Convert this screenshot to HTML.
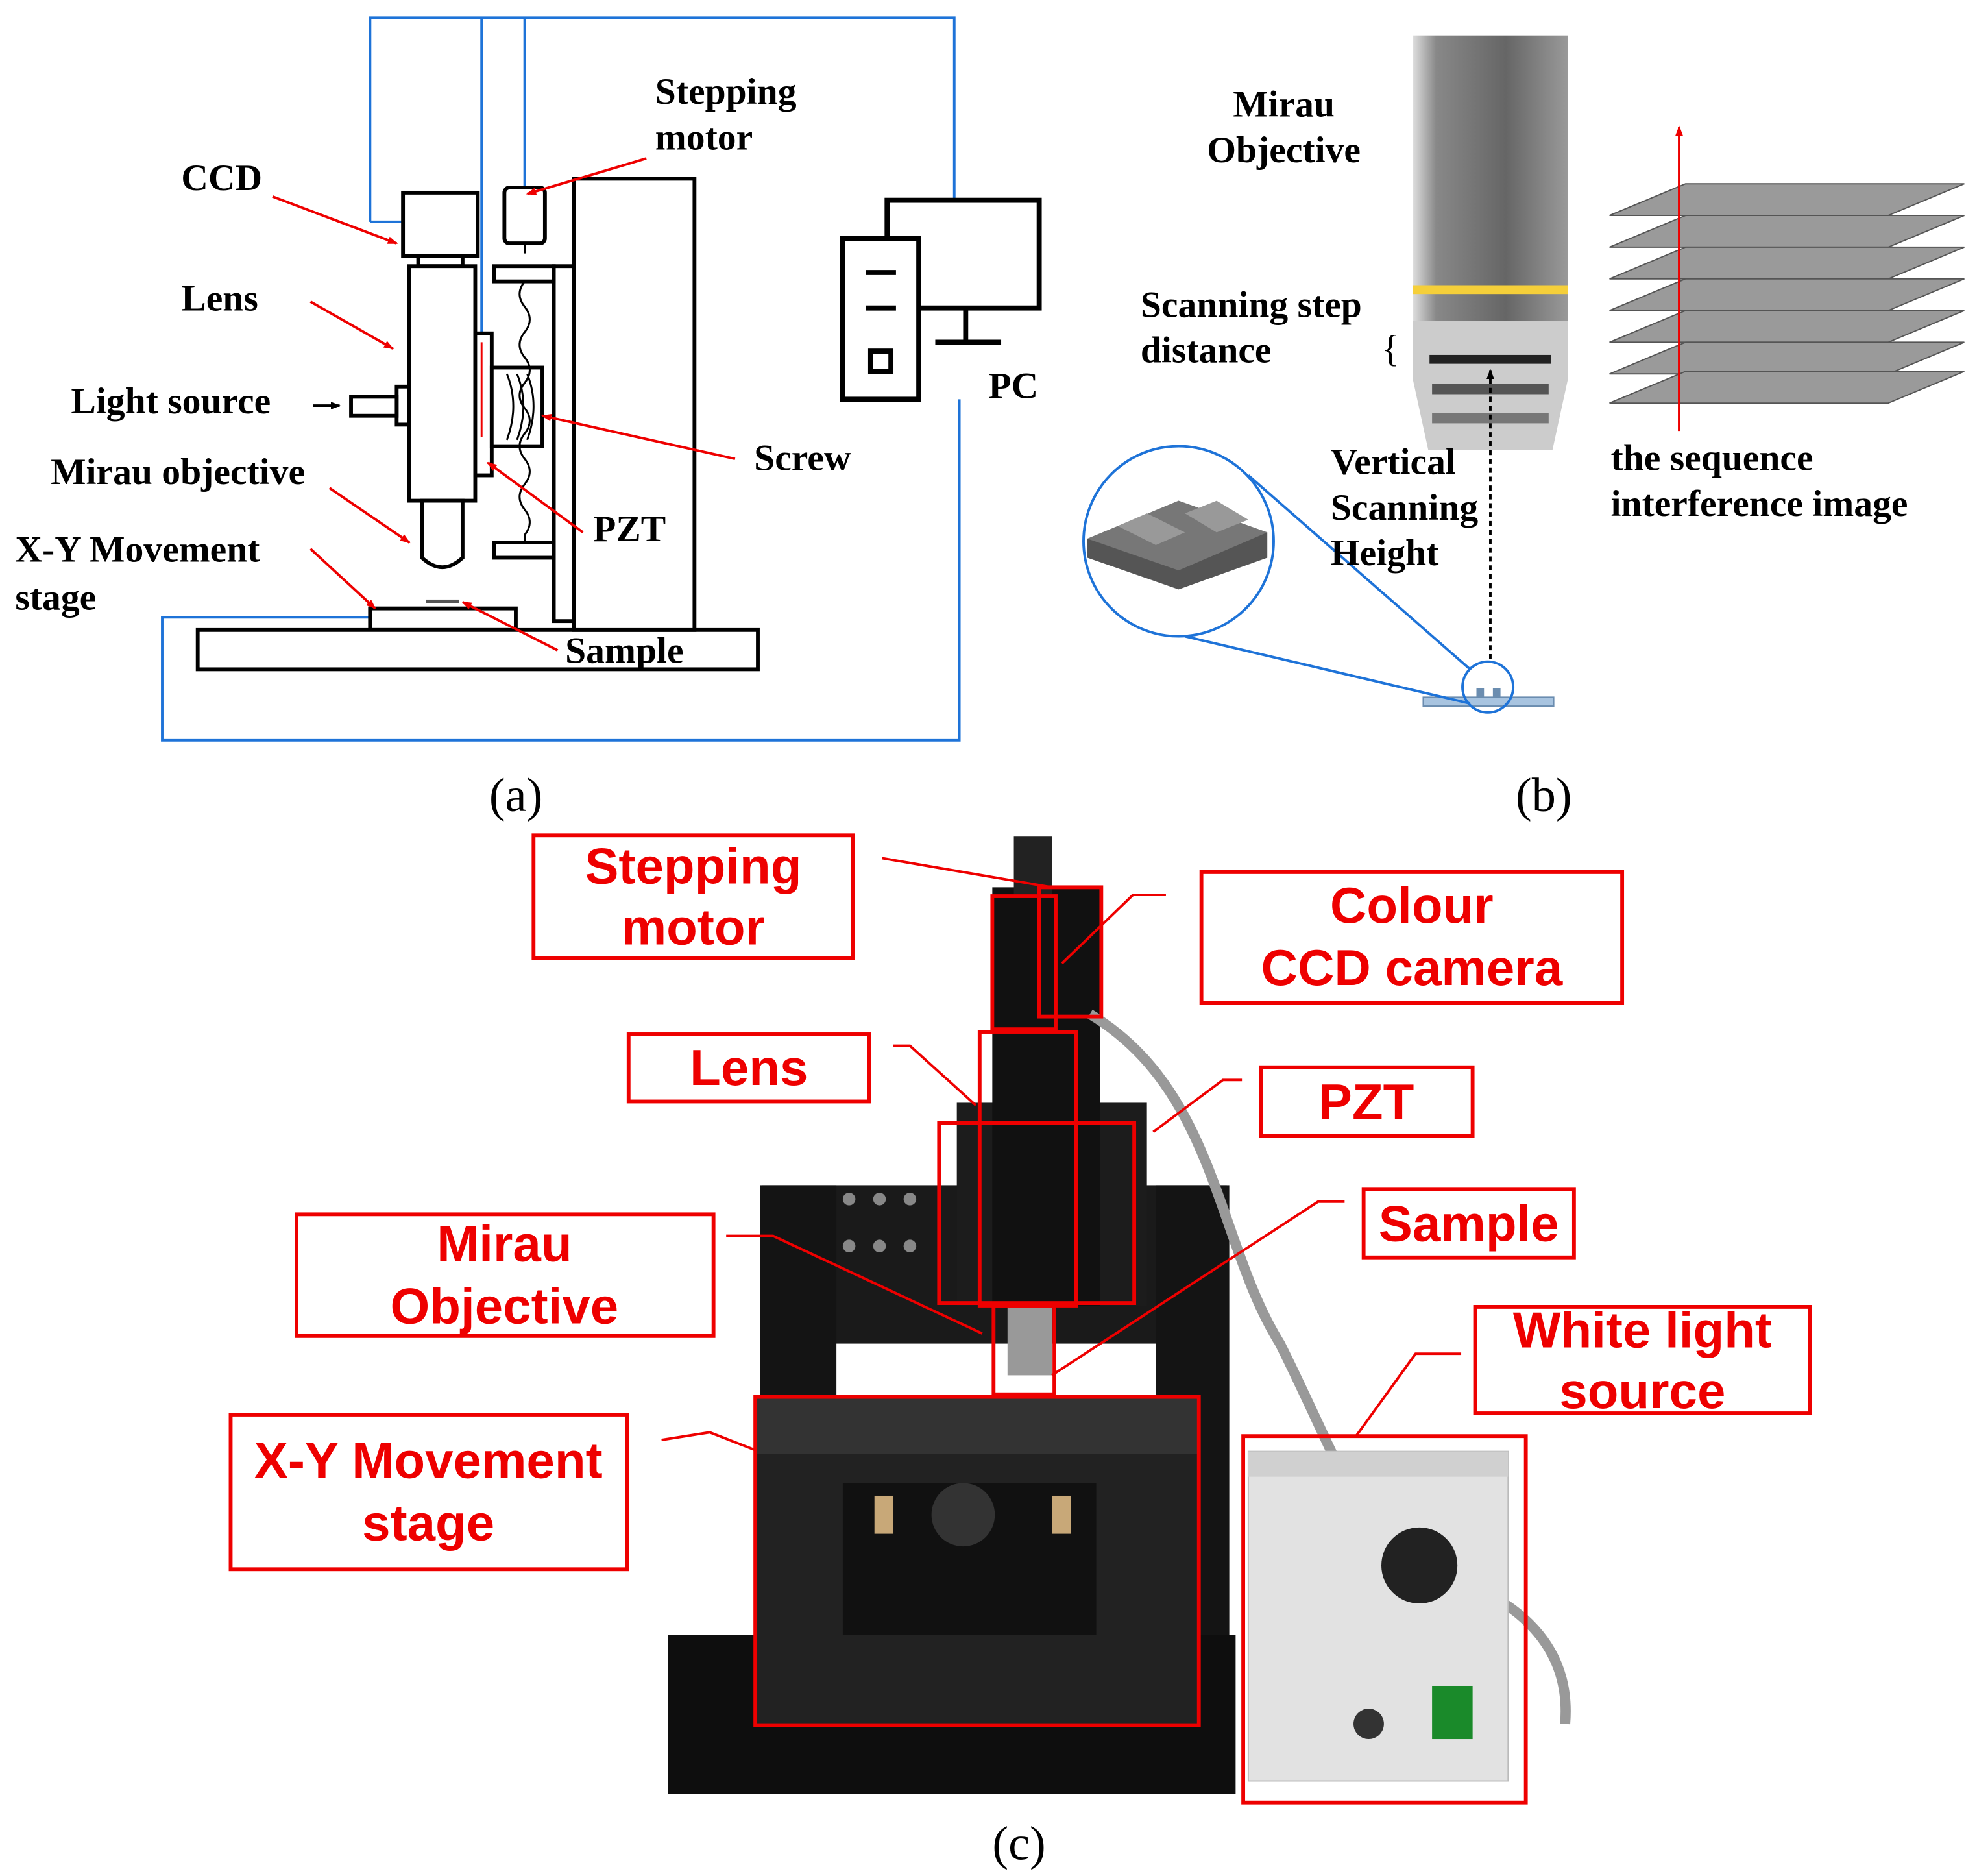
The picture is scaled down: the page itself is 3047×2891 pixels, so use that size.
<!DOCTYPE html>
<html><head><meta charset="utf-8"><style>html,body{margin:0;padding:0;background:#fff}svg{display:block}</style></head>
<body>
<svg width="3047" height="2891" viewBox="0 0 1560 1480" preserveAspectRatio="none" xmlns="http://www.w3.org/2000/svg">
<defs>
<marker id="ar" markerWidth="8" markerHeight="8" refX="7" refY="4" orient="auto" markerUnits="userSpaceOnUse"><path d="M0,1 L8,4 L0,7z" fill="#e00"/></marker>
<marker id="ab" markerWidth="8" markerHeight="8" refX="7" refY="4" orient="auto" markerUnits="userSpaceOnUse"><path d="M0,1 L8,4 L0,7z" fill="#000"/></marker>
<linearGradient id="cyl" x1="0" x2="1"><stop offset="0" stop-color="#ddd"/><stop offset="0.15" stop-color="#888"/><stop offset="0.6" stop-color="#666"/><stop offset="1" stop-color="#999"/></linearGradient>
</defs>
<g font-family="Liberation Serif, serif" font-weight="bold" font-size="29.5" fill="#000">
<g stroke="#1e73d8" stroke-width="2" fill="none">
<path d="M292,175 V14 H753 V158"/>
<path d="M292,175 H318"/>
<path d="M380,14 V262"/>
<path d="M414,14 V148"/>
<path d="M292,487 H128 V584 H757 V315"/>
</g>
<g stroke="#000" stroke-width="3" fill="#fff">
<rect x="318" y="152" width="59" height="50"/>
<rect x="330" y="202" width="35" height="8"/>
<rect x="323" y="210" width="52" height="185"/>
<rect x="375" y="263" width="13" height="112"/>
<rect x="313" y="305" width="10" height="30"/>
<rect x="277" y="313" width="36" height="15"/>
<path d="M333,395 H365 V440 Q349,455 333,440Z"/>
<rect x="292" y="480" width="115" height="17"/>
<rect x="156" y="497" width="442" height="31"/>
<rect x="398" y="148" width="32" height="44" rx="4"/>
<rect x="453" y="141" width="95" height="356"/>
<rect x="437" y="210" width="16" height="280"/>
<rect x="390" y="210" width="47" height="12"/>
<rect x="390" y="428" width="47" height="12"/>
<rect x="388" y="290" width="40" height="62"/>
</g>
<path d="M414,192 V200 M414,222 q-8,10 0,20 q8,10 0,20 q-8,10 0,20 q8,10 0,20 q-8,10 0,20 q8,10 0,20 q-8,10 0,20 q8,10 0,20 q-8,10 0,20 q8,10 0,20 V428" stroke="#000" stroke-width="1.5" fill="none"/>
<path d="M400,295 q10,25 0,52 M408,295 q10,25 0,52 M416,295 q10,25 0,52" stroke="#000" stroke-width="1.5" fill="none"/>
<rect x="336" y="473" width="26" height="3" fill="#555"/>
<line x1="380" y1="270" x2="380" y2="345" stroke="#e00" stroke-width="1.5"/>
<g stroke="#e00" stroke-width="2" marker-end="url(#ar)">
<line x1="215" y1="155" x2="313" y2="192"/>
<line x1="245" y1="238" x2="310" y2="275"/>
<line x1="260" y1="385" x2="323" y2="428"/>
<line x1="245" y1="433" x2="296" y2="480"/>
<line x1="510" y1="125" x2="416" y2="153"/>
<line x1="580" y1="362" x2="428" y2="328"/>
<line x1="460" y1="420" x2="385" y2="365"/>
<line x1="440" y1="513" x2="365" y2="475"/>
</g>
<line x1="247" y1="320" x2="268" y2="320" stroke="#000" stroke-width="2" marker-end="url(#ab)"/>
<g stroke="#000" stroke-width="4" fill="#fff">
<rect x="700" y="158" width="120" height="85"/>
<rect x="665" y="188" width="60" height="127"/>
<line x1="762" y1="243" x2="762" y2="270"/><line x1="738" y1="270" x2="790" y2="270"/>
<line x1="683" y1="215" x2="707" y2="215"/><line x1="683" y1="243" x2="707" y2="243"/>
<rect x="687" y="277" width="16" height="16"/>
</g>
<text x="517" y="82">Stepping</text><text x="517" y="118">motor</text>
<text x="143" y="150">CCD</text><text x="143" y="245">Lens</text>
<text x="56" y="326">Light source</text><text x="40" y="382">Mirau objective</text>
<text x="12" y="443">X-Y Movement</text><text x="12" y="481">stage</text>
<text x="595" y="371">Screw</text><text x="468" y="427">PZT</text>
<text x="446" y="523">Sample</text><text x="780" y="314">PC</text>
<g font-weight="normal" font-size="38"><text x="386" y="640">(a)</text><text x="1196" y="640">(b)</text><text x="783" y="1467">(c)</text></g>
<rect x="1115" y="28" width="122" height="225" fill="url(#cyl)"/>
<rect x="1115" y="225" width="122" height="7" fill="#f5cf3a"/>
<path d="M1115,253 H1237 V300 L1225,355 H1127 L1115,300Z" fill="#aaa" opacity="0.6"/>
<rect x="1128" y="280" width="96" height="7" fill="#222"/>
<rect x="1130" y="303" width="92" height="8" fill="#555"/>
<rect x="1130" y="326" width="92" height="8" fill="#777"/>
<g fill="#9a9a9a" stroke="#555" stroke-width="1">
<path d="M1330,145 H1550 L1490,170 H1270Z"/>
<path d="M1330,170 H1550 L1490,195 H1270Z"/>
<path d="M1330,195 H1550 L1490,220 H1270Z"/>
<path d="M1330,220 H1550 L1490,245 H1270Z"/>
<path d="M1330,245 H1550 L1490,270 H1270Z"/>
<path d="M1330,270 H1550 L1490,295 H1270Z"/>
<path d="M1330,293 H1550 L1490,318 H1270Z"/>
</g>
<line x1="1325" y1="340" x2="1325" y2="100" stroke="#e00" stroke-width="2" marker-end="url(#ar)"/>
<line x1="1176" y1="520" x2="1176" y2="292" stroke="#000" stroke-width="2" stroke-dasharray="4,3" marker-end="url(#ab)"/>
<rect x="1123" y="550" width="103" height="7" fill="#a8c4e0" stroke="#6b8db0"/>
<rect x="1165" y="543" width="6" height="7" fill="#6b8db0"/><rect x="1178" y="543" width="6" height="7" fill="#6b8db0"/>
<g stroke="#1e73d8" stroke-width="2" fill="none">
<circle cx="930" cy="427" r="75"/><circle cx="1174" cy="542" r="20"/>
<line x1="985" y1="375" x2="1160" y2="528"/><line x1="935" y1="502" x2="1160" y2="555"/>
</g>
<path d="M858,425 L930,395 L1000,420 L1000,440 L930,465 L858,440Z" fill="#555"/>
<path d="M858,425 L930,395 L1000,420 L930,450Z" fill="#777"/>
<path d="M882,415 L905,405 L935,420 L912,430Z M935,405 L960,395 L985,410 L960,420Z" fill="#999"/>
<text x="1013" y="92" text-anchor="middle">Mirau</text><text x="1013" y="128" text-anchor="middle">Objective</text>
<text x="900" y="250">Scanning step</text><text x="900" y="286">distance</text>
<text x="1090" y="285" font-weight="normal" font-size="30">{</text>
<text x="1050" y="374">Vertical</text><text x="1050" y="410">Scanning</text><text x="1050" y="446">Height</text>
<text x="1271" y="371">the sequence</text><text x="1271" y="407">interference image</text>
</g>
<g>
<rect x="601" y="935" width="367" height="165" fill="#1a1a1a"/>
<rect x="655" y="1060" width="258" height="50" fill="#fff"/>
<rect x="600" y="935" width="60" height="365" fill="#141414"/>
<rect x="912" y="935" width="58" height="365" fill="#141414"/>
<rect x="527" y="1290" width="448" height="125" fill="#0e0e0e"/>
<rect x="596" y="1102" width="350" height="258" fill="#222"/>
<rect x="596" y="1102" width="350" height="45" fill="#333"/>
<rect x="665" y="1170" width="200" height="120" fill="#111"/>
<rect x="690" y="1180" width="15" height="30" fill="#c8a878"/><rect x="830" y="1180" width="15" height="30" fill="#c8a878"/>
<circle cx="760" cy="1195" r="25" fill="#333"/>
<rect x="755" y="870" width="150" height="160" fill="#1c1c1c"/>
<rect x="783" y="700" width="85" height="330" fill="#111"/>
<rect x="795" y="1030" width="35" height="55" fill="#999"/>
<rect x="800" y="660" width="30" height="45" fill="#222"/>
<g fill="#888"><circle cx="670" cy="946" r="5"/><circle cx="694" cy="946" r="5"/><circle cx="718" cy="946" r="5"/><circle cx="670" cy="983" r="5"/><circle cx="694" cy="983" r="5"/><circle cx="718" cy="983" r="5"/></g>
<path d="M860,800 C960,860 960,980 1010,1060 C1060,1160 1080,1230 1130,1240 C1200,1260 1240,1300 1235,1360" stroke="#999" stroke-width="8" fill="none"/>
<rect x="985" y="1145" width="205" height="260" fill="#e2e2e2" stroke="#bbb"/>
<rect x="985" y="1145" width="205" height="20" fill="#d0d0d0"/>
<circle cx="1120" cy="1235" r="30" fill="#222"/><rect x="1130" y="1330" width="32" height="42" fill="#1a8a2a"/>
<circle cx="1080" cy="1360" r="12" fill="#333"/>
</g>
<g stroke="#e00" stroke-width="3" fill="none">
<rect x="783" y="707" width="50" height="105"/><rect x="820" y="700" width="49" height="102"/>
<rect x="773" y="814" width="76" height="216"/><rect x="741" y="886" width="154" height="142"/>
<rect x="784" y="1030" width="48" height="70"/><rect x="596" y="1102" width="350" height="259"/>
<rect x="981" y="1133" width="223" height="289"/>
<rect x="421" y="659" width="252" height="97"/><rect x="948" y="688" width="332" height="103"/>
<rect x="496" y="816" width="190" height="53"/><rect x="995" y="842" width="167" height="54"/>
<rect x="234" y="958" width="329" height="96"/><rect x="1076" y="938" width="166" height="54"/>
<rect x="1164" y="1031" width="264" height="84"/><rect x="182" y="1116" width="313" height="122"/>
</g>
<g stroke="#e00" stroke-width="2" fill="none">
<path d="M696,677 L830,700"/><path d="M920,706 H894 L838,760"/><path d="M705,825 H718 L770,872"/>
<path d="M980,852 H965 L910,893"/><path d="M573,975 H610 L775,1052"/><path d="M1061,948 H1040 L830,1085"/>
<path d="M1153,1068 H1117 L1070,1133"/><path d="M522,1136 L560,1130 L596,1144"/>
</g>
<g font-family="Liberation Sans, sans-serif" font-weight="bold" font-size="40" fill="#e00" text-anchor="middle">
<text x="547" y="697">Stepping</text><text x="547" y="745">motor</text>
<text x="1114" y="728">Colour</text><text x="1114" y="777">CCD camera</text>
<text x="591" y="856">Lens</text><text x="1078" y="883">PZT</text>
<text x="398" y="995">Mirau</text><text x="398" y="1044">Objective</text>
<text x="1159" y="979">Sample</text>
<text x="1296" y="1063">White light</text><text x="1296" y="1111">source</text>
<text x="338" y="1166">X-Y Movement</text><text x="338" y="1215">stage</text>
</g>
</svg>
</body></html>
